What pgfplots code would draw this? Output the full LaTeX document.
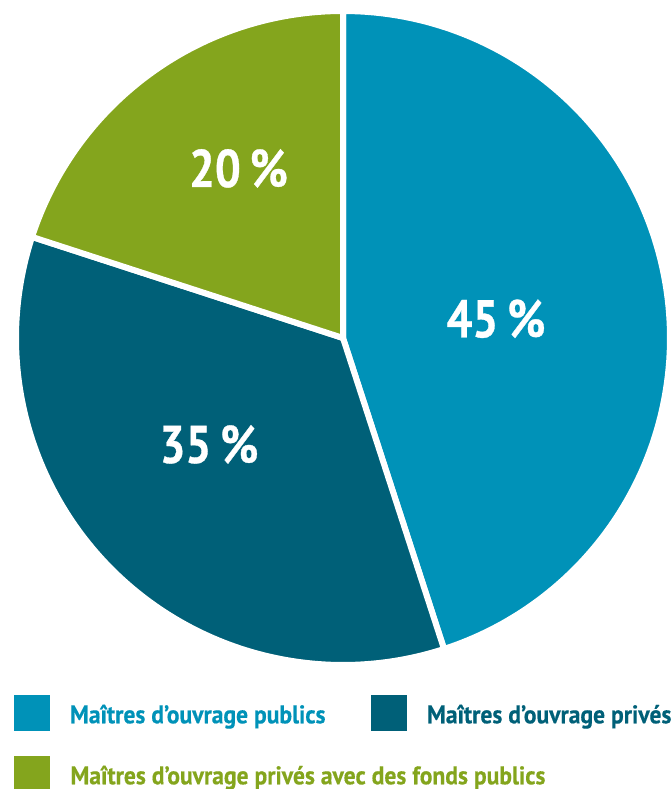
\documentclass[border=0pt]{standalone}
\usepackage{pgfplots}
\usepackage{pgfplotstable}
\pgfplotsset{compat=1.18}
\usepackage{fontspec}
\setmainfont{PT Sans}
\newfontfamily\legfont[FakeStretch=0.925,FakeBold=0.4]{PT Sans}
\newfontfamily\labfont[FakeStretch=0.86,FakeBold=0.6]{PT Sans}
\definecolor{cpub}{RGB}{0,146,184}
\definecolor{cpriv}{RGB}{0,96,120}
\definecolor{cfonds}{RGB}{132,165,29}

\pgfplotstableread{
value
45
35
20
}\piedata

\begin{document}
\begin{tikzpicture}
\pgfplotstablegetelem{0}{value}\of\piedata \let\vA\pgfplotsretval
\pgfplotstablegetelem{1}{value}\of\piedata \let\vB\pgfplotsretval
\pgfplotstablegetelem{2}{value}\of\piedata \let\vC\pgfplotsretval
\pgfmathsetmacro\aA{90-3.6*\vA}
\pgfmathsetmacro\aB{\aA-3.6*\vB}
\pgfmathsetmacro\aC{\aB-3.6*\vC}
\begin{axis}[
  scale only axis, width=671bp, height=789bp,
  xmin=0, xmax=671, ymin=0, ymax=789,
  hide axis, clip=false,
  legend columns=2,
  legend style={at={(axis cs:14,94)}, anchor=north west, draw=none, fill=none,
    inner sep=0pt, outer sep=0pt, column sep=20bp, row sep=25bp,
    nodes={inner sep=0pt, anchor=base west, font=\legfont\fontsize{25.5bp}{28bp}\selectfont\bfseries}},
  legend image code/.code={\fill[#1, draw=none] (0bp,-7.7bp) rectangle (36bp,28.3bp);},
]
\addplot[fill=cpub, draw=white, line width=6bp, line join=round, domain=\aA:90, samples=120]
  ({343+327*cos(x)},{451+327*sin(x)}) -- (axis cs:343,451) -- cycle;
\addlegendentry{\makebox[281bp][l]{\textcolor{cpub}{Maîtres d’ouvrage publics}}}
\addplot[fill=cpriv, draw=white, line width=6bp, line join=round, domain=\aB:\aA, samples=120]
  ({343+327*cos(x)},{451+327*sin(x)}) -- (axis cs:343,451) -- cycle;
\addlegendentry{\textcolor{cpriv}{Maîtres d’ouvrage privés}}
\addplot[fill=cfonds, draw=white, line width=6bp, line join=round, domain=\aC:\aB, samples=120]
  ({343+327*cos(x)},{451+327*sin(x)}) -- (axis cs:343,451) -- cycle;
\addlegendentry{\rlap{\textcolor{cfonds}{Maîtres d’ouvrage privés avec des fonds publics}}}
\tikzset{lab/.style={white, inner sep=0pt, anchor=base, font=\labfont\fontsize{53bp}{60bp}\selectfont\bfseries}}
\node[lab] at (axis cs:496,451.7) {45\,\%};
\node[lab] at (axis cs:209,326) {35\,\%};
\node[lab] at (axis cs:238.5,602) {20\,\%};
\end{axis}
\pgfresetboundingbox
\path (current axis.south west) rectangle (current axis.north east);
\end{tikzpicture}
\end{document}
